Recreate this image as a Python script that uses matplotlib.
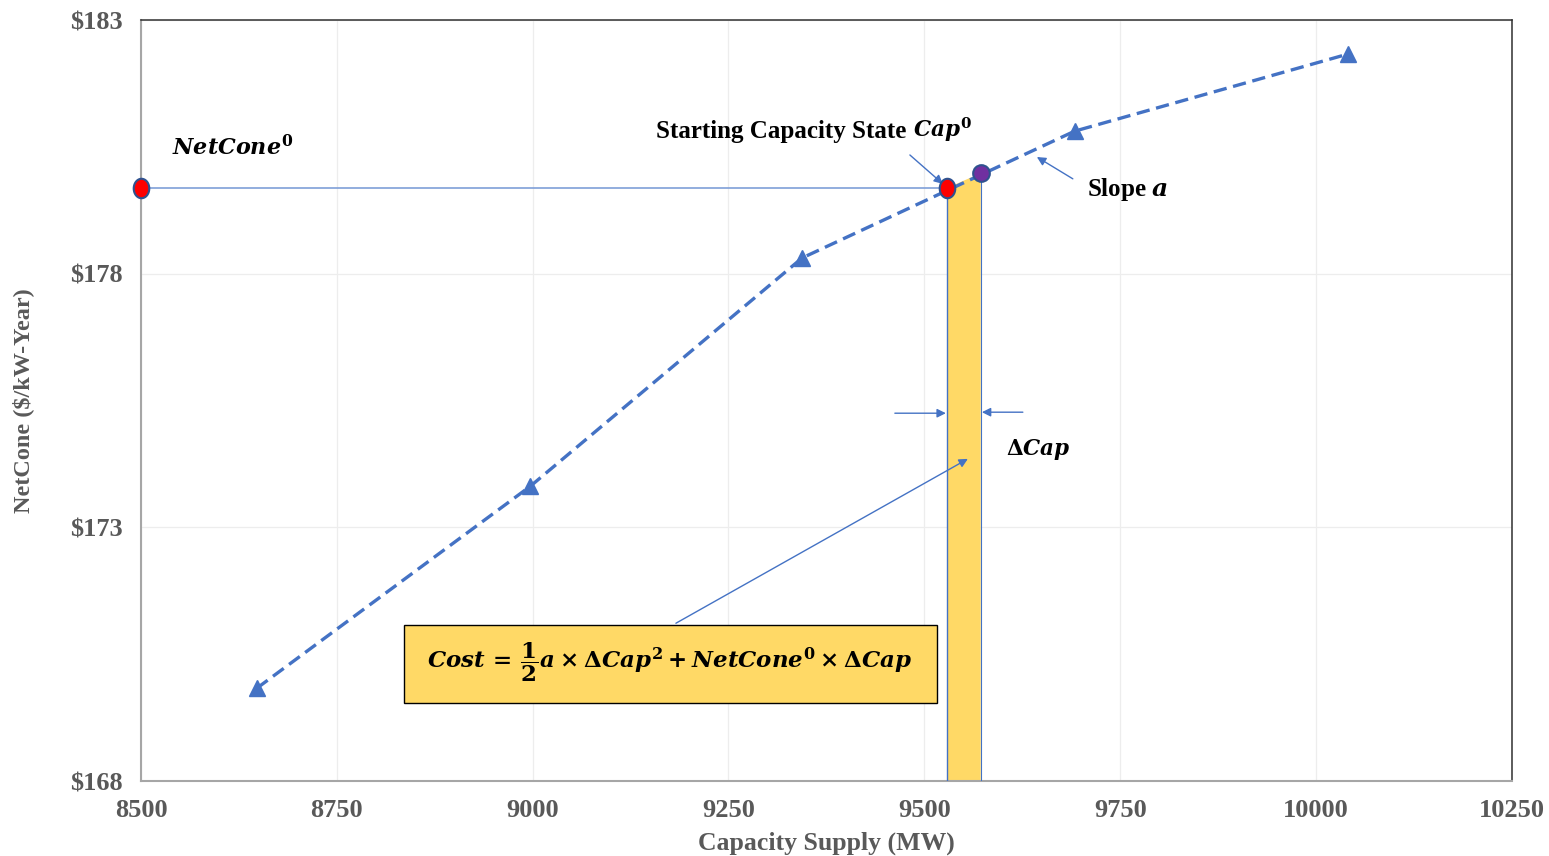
import numpy as np
import matplotlib
matplotlib.use("Agg")
import matplotlib.pyplot as plt
from matplotlib.patches import Polygon, Rectangle
from matplotlib.path import Path

# supply curve points (MW, $/kW-Year)
supply_mw = [8648, 8997, 9344, 9692, 10041]
netcone = [169.83, 173.81, 178.31, 180.81, 182.33]

# starting state and next state
start_cap = 9529
start_cone = 179.69
next_cap = 9572
next_cone = 179.98

x_ticks = [8500, 8750, 9000, 9250, 9500, 9750, 10000, 10250]
y_ticks = [168, 173, 178, 183]
y_tick_labels = ["$168", "$173", "$178", "$183"]

plt.rcParams["mathtext.fontset"] = "custom"
plt.rcParams["mathtext.rm"] = "DejaVu Serif:bold"
plt.rcParams["mathtext.it"] = "DejaVu Serif:italic:bold"
plt.rcParams["mathtext.bf"] = "DejaVu Serif:bold"

blue = "#4472C4"
serif = "Liberation Serif"

fig = plt.figure(figsize=(15.49, 8.56), dpi=100)
ax = fig.add_axes([0.091, 0.0876, 0.885, 0.889])
ax.set_xlim(8500, 10250)
ax.set_ylim(168, 183)

ax.set_xticks(x_ticks)
ax.set_yticks(y_ticks)
ax.set_yticklabels(y_tick_labels)
ax.grid(True, color="#EDEDED", lw=0.9)
ax.set_axisbelow(True)
ax.tick_params(length=0, pad=13, labelsize=19, labelcolor="#595959")
for lab in ax.get_xticklabels() + ax.get_yticklabels():
    lab.set_fontfamily(serif)
    lab.set_fontweight("bold")
ax.set_xlabel("Capacity Supply (MW)", fontsize=18.5, fontfamily=serif,
              fontweight="bold", color="#595959", labelpad=7)
ax.set_ylabel("NetCone ($/kW-Year)", fontsize=17.5, fontfamily=serif,
              fontweight="bold", color="#595959", labelpad=26)
for s in ["left", "bottom"]:
    ax.spines[s].set_color("#A6A6A6")
    ax.spines[s].set_linewidth(1.5)
for s in ["top", "right"]:
    ax.spines[s].set_color("#303030")
    ax.spines[s].set_linewidth(1.1)

# yellow strip = delta cap
ax.add_patch(Polygon([(start_cap, 168), (start_cap, start_cone),
                      (next_cap, next_cone), (next_cap, 168)],
                     closed=True, facecolor="#FFD966", edgecolor="none", zorder=2))
ax.plot([start_cap, start_cap], [168, start_cone], color=blue, lw=1, zorder=3)
ax.plot([next_cap, next_cap], [168, next_cone - 0.1], color=blue, lw=0.8, zorder=3)
ax.plot([8500, start_cap], [start_cone, start_cone], color="#7F9FD8", lw=1.2, zorder=3)

ax.plot(supply_mw, netcone, linestyle=(0, (4, 2)), color=blue, lw=2.4,
        marker="^", markersize=11, markerfacecolor=blue, markeredgecolor=blue, zorder=4)

t = np.linspace(0, 2 * np.pi, 60)
ellipse = Path(np.column_stack([0.8 * np.cos(t), np.sin(t)]))
ax.plot([8500, start_cap], [start_cone, start_cone], linestyle="none", marker=ellipse,
        markersize=14, markerfacecolor="red", markeredgecolor="#2F528F",
        markeredgewidth=1.5, zorder=6, clip_on=False)
ax.plot([next_cap], [next_cone], linestyle="none", marker="o", markersize=12,
        markerfacecolor="#7030A0", markeredgecolor="#2F528F",
        markeredgewidth=1.5, zorder=5)

arrow = dict(arrowstyle="-|>", color=blue, lw=1, mutation_scale=13, shrinkA=0, shrinkB=0)

ax.text(8539, 180.5, r"$NetCone^{0}$", fontsize=16, va="center", ha="left")
ax.text(9157, 180.81, "Starting Capacity State", fontsize=18, fontfamily=serif,
        fontweight="bold", va="center", ha="left")
ax.text(9486, 180.84, r"$Cap^{0}$", fontsize=15.5, va="center", ha="left")
ax.annotate("", xy=(9523.7, 179.77), xytext=(9481.6, 180.34), arrowprops=arrow)
ax.text(9707.5, 179.65, "Slope " + r"$a$", fontsize=18, fontfamily=serif,
        fontweight="bold", va="center", ha="left")
ax.annotate("", xy=(9643.7, 180.30), xytext=(9689.6, 179.87), arrowprops=arrow)
ax.text(9604, 174.54, r"$\Delta Cap$", fontsize=15.5, va="center", ha="left")
ax.annotate("", xy=(9527.5, 175.25), xytext=(9462.4, 175.25), arrowprops=arrow)
ax.annotate("", xy=(9573.5, 175.27), xytext=(9625.8, 175.27), arrowprops=arrow)
ax.annotate("", xy=(9555.6, 174.35), xytext=(9182.9, 171.11), arrowprops=arrow)

ax.add_patch(Rectangle((8835.7, 169.54), 9516.1 - 8835.7, 171.07 - 169.54,
                       facecolor="#FFD966", edgecolor="black", lw=1, zorder=5))
ax.text(9175, 170.33,
        r"$Cost\,=\,\dfrac{1}{2}a\times\Delta Cap^{2}+NetCone^{0}\times\Delta Cap$",
        fontsize=16.5, ha="center", va="center", zorder=6)

fig.savefig("out.png", dpi=100)
